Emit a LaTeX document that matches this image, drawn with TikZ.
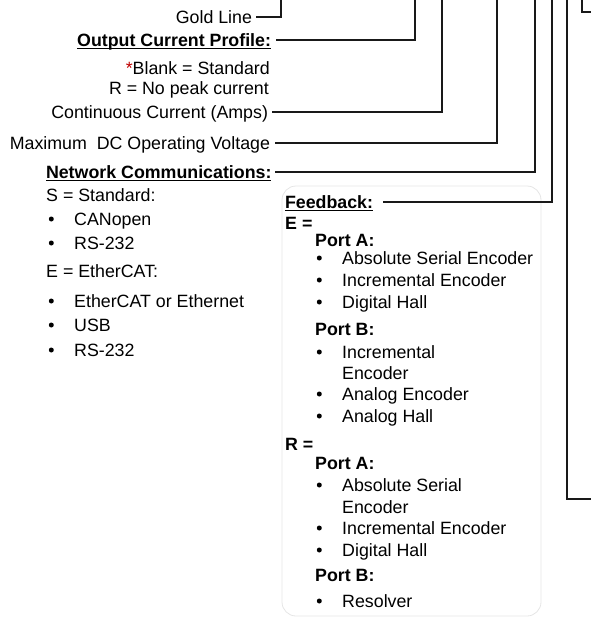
\documentclass[tikz,border=0pt]{standalone}
\usepackage{fontspec}
\setmainfont{Liberation Sans}

\newcommand{\ulin}[1]{\setbox0\hbox{#1}\rlap{\raisebox{-3pt}{\rule{\wd0}{1.4pt}}}\box0}

\tikzset{
  lbl/.style={font=\fontsize{17.8}{21.4}\selectfont, inner sep=0pt, text height=12.8pt, text depth=0pt},
  hd/.style={lbl, font=\fontsize{17.8}{21.4}\selectfont\bfseries},
  dotm/.style={circle, fill=black, inner sep=0pt, minimum size=5pt},
  item/.style={lbl, anchor=west, label={[dotm, label distance=20pt]west:{}}},
  wire/.style={line width=1.3pt, black!90},
  fbbox/.style={line width=0.8pt, black!10, rounded corners=14pt},
}

\begin{document}
\begin{tikzpicture}[x=1pt, y=-1pt]
  \useasboundingbox (0,0) rectangle (591,618);

  % ends of the connectors at the top edge
  \coordinate (goldtop) at (281,0);
  \coordinate (ocptop) at (415,0);
  \coordinate (conttop) at (442,0);
  \coordinate (vmaxtop) at (497,0);
  \coordinate (nettop) at (535,0);
  \coordinate (fbtop) at (552,0);
  \coordinate (rtop) at (567,0);
  \coordinate (rend) at (591,499);
  \coordinate (qtop) at (582,0);
  \coordinate (qend) at (591,12);

  \node[lbl, anchor=east, outer xsep=4pt] (gold) at (256,17) {Gold Line};
  \node[hd, anchor=east, outer xsep=5pt] (ocp) at (276,40) {\ulin{Output Current Profile:}};
  \node[lbl, anchor=east] (blank) at (270,68) {{\color{red!75!black}*}Blank = Standard};
  \node[lbl, anchor=east] (nopk) at (269,88) {R = No peak current};
  \node[lbl, anchor=east, outer xsep=4pt] (cont) at (272,112) {Continuous Current (Amps)};
  \node[lbl, anchor=east, outer xsep=5pt] (vmax) at (275,143) {Maximum~~DC Operating Voltage};

  \node[hd, anchor=west, outer xsep=4pt] (net) at (42,172) {\ulin{Network Communications:}};
  \node[lbl, anchor=west] (ns) at (46,195) {S = Standard:};
  \node[item] (ns1) at (74,219) {CANopen};
  \node[item] (ns2) at (74,243) {RS-232};
  \node[lbl, anchor=west] (ne) at (46,271) {E = EtherCAT:};
  \node[item] (ne1) at (74,301) {EtherCAT or Ethernet};
  \node[item] (ne2) at (74,325) {USB};
  \node[item] (ne3) at (74,350) {RS-232};

  % feedback panel
  \draw[fbbox] (282,186) rectangle (541,616);
  \node[hd, anchor=west, outer xsep=10pt] (fb) at (275,202) {\ulin{Feedback:}};
  \node[hd, anchor=west] (fbE) at (285,223) {E =};
  \node[hd, anchor=west] (fbEA) at (315,240) {Port A:};
  \node[item] (fbEA1) at (342,258) {Absolute Serial Encoder};
  \node[item] (fbEA2) at (342,280) {Incremental Encoder};
  \node[item] (fbEA3) at (342,302) {Digital Hall};
  \node[hd, anchor=west] (fbEB) at (315,329) {Port B:};
  \node[item] (fbEB1) at (342,352) {Incremental};
  \node[lbl, anchor=west] (fbEB1b) at (342,373) {Encoder};
  \node[item] (fbEB2) at (342,394) {Analog Encoder};
  \node[item] (fbEB3) at (342,416) {Analog Hall};
  \node[hd, anchor=west] (fbR) at (285,444) {R =};
  \node[hd, anchor=west] (fbRA) at (315,463) {Port A:};
  \node[item] (fbRA1) at (342,485) {Absolute Serial};
  \node[lbl, anchor=west] (fbRA1b) at (342,507) {Encoder};
  \node[item] (fbRA2) at (342,528) {Incremental Encoder};
  \node[item] (fbRA3) at (342,550) {Digital Hall};
  \node[hd, anchor=west] (fbRB) at (315,575) {Port B:};
  \node[item] (fbRB1) at (342,601) {Resolver};

  \draw[wire] (gold.east) -| (goldtop);
  \draw[wire] (ocp.east) -| (ocptop);
  \draw[wire] (cont.east) -| (conttop);
  \draw[wire] (vmax.east) -| (vmaxtop);
  \draw[wire] (net.east) -| (nettop);
  \draw[wire] (fb.east) -| (fbtop);
  \draw[wire] (rtop) |- (rend);
  \draw[wire] (qtop) |- (qend);
\end{tikzpicture}
\end{document}
